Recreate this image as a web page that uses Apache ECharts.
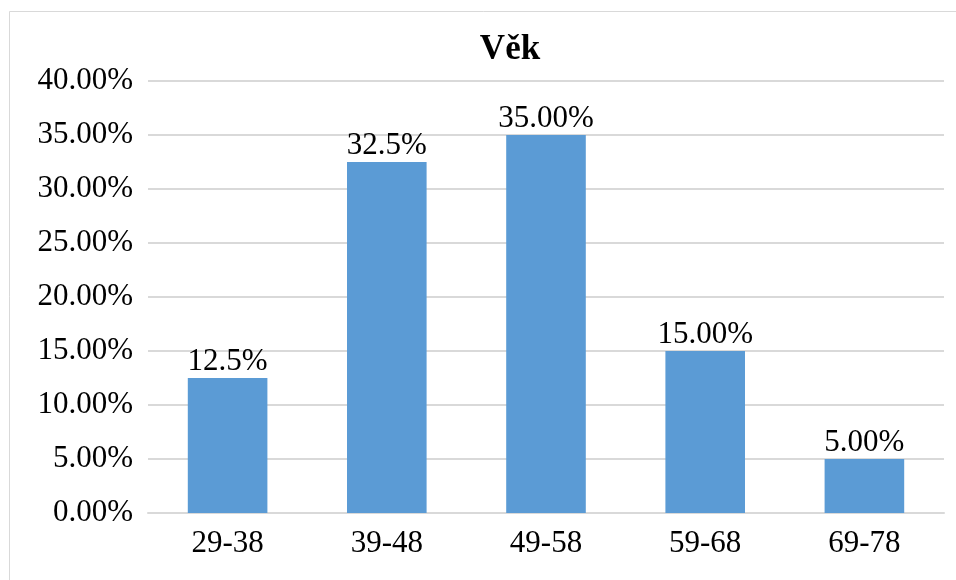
<!DOCTYPE html>
<html>
<head>
<meta charset="utf-8">
<script src="https://cdn.jsdelivr.net/npm/echarts@6/dist/echarts.min.js"></script>
<style>
  html, body { margin: 0; padding: 0; background: #fff; }
  #chart { width: 956px; height: 580px; }
</style>
</head>
<body>
<div id="chart"></div>
<script>
// data
const categories = ['29-38', '39-48', '49-58', '59-68', '69-78']
const values = [12.5, 32.5, 35, 15, 5]
const valueLabels = ['12.5%', '32.5%', '35.00%', '15.00%', '5.00%']
const yTicks = [0, 5, 10, 15, 20, 25, 30, 35, 40]

const font = '"Liberation Serif", "Times New Roman", serif'

const chart = echarts.init(document.getElementById('chart'))

chart.setOption({
  backgroundColor: '#fff',
  animation: false,
  title: {
    text: 'Věk',
    left: 505,
    top: 27,
    textAlign: 'center',
    textStyle: { fontFamily: font, fontSize: 35, fontWeight: 'bold', color: '#000' }
  },
  graphic: [{
    type: 'rect',
    shape: { x: 9.5, y: 11.5, width: 960, height: 600 },
    style: { fill: 'none', stroke: '#d9d9d9', lineWidth: 1 },
    silent: true
  }],
  grid: { left: 148, right: 12, top: 81, bottom: 67, containLabel: false },
  xAxis: {
    type: 'category',
    data: categories,
    axisTick: { show: false },
    axisLine: { lineStyle: { color: '#d9d9d9', width: 2 } },
    axisLabel: { fontFamily: font, fontSize: 31, color: '#000', margin: 15 }
  },
  yAxis: {
    type: 'value',
    min: yTicks[0],
    max: yTicks[yTicks.length - 1],
    interval: 5,
    axisLine: { show: false },
    axisTick: { show: false },
    splitLine: { lineStyle: { color: '#d9d9d9', width: 2 } },
    axisLabel: {
      fontFamily: font, fontSize: 31, color: '#000', margin: 15,
      formatter: v => v.toFixed(2) + '%'
    }
  },
  series: [{
    type: 'bar',
    data: values,
    barWidth: '50%',
    itemStyle: { color: '#5b9bd5' },
    label: {
      show: true,
      position: 'top',
      distance: 1,
      fontFamily: font,
      fontSize: 31,
      color: '#000',
      formatter: p => valueLabels[p.dataIndex]
    }
  }]
})
</script>
</body>
</html>
